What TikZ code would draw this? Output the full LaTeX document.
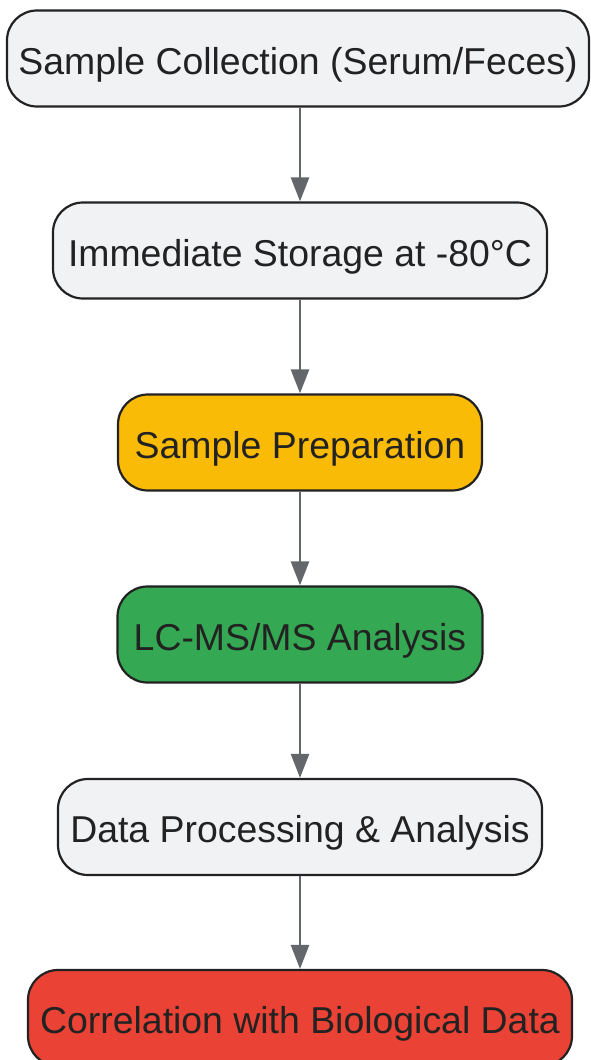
\documentclass[tikz,border=0pt]{standalone}
\usepackage{fontspec}
\setmainfont{Liberation Sans}
\usetikzlibrary{arrows.meta}
\definecolor{boxgray}{HTML}{F1F2F4}
\definecolor{boxorange}{HTML}{F9BB06}
\definecolor{boxgreen}{HTML}{34A853}
\definecolor{boxred}{HTML}{EA4335}
\definecolor{edgegray}{HTML}{63666A}
\definecolor{inkdark}{HTML}{222222}
\tikzset{
 stepnode/.style={draw=inkdark,line width=2.2pt,rounded corners=30pt,
   minimum height=96pt,inner sep=0pt,text=inkdark,
   text height=31pt,text depth=0pt,
   font=\fontsize{37.4}{44}\selectfont},
 flowarrow/.style={draw=edgegray,line width=2.6pt,
   -{Triangle[length=24pt,width=18pt]}}
}
\begin{document}
\begin{tikzpicture}[x=1pt,y=1pt]
 \useasboundingbox (0,0) rectangle (591,-1060);
 \node [stepnode,fill=boxgray,minimum width=582pt] (collect) at (298,-58.5) {Sample Collection (Serum/Feces)};
 \node [stepnode,fill=boxgray,minimum width=494pt] (store) at (300,-250.5) {Immediate Storage at -80°C};
 \node [stepnode,fill=boxorange,minimum width=364pt] (prep) at (300,-442.5) {Sample Preparation};
 \node [stepnode,fill=boxgreen,minimum width=365pt] (lcms) at (300,-634.5) {LC-MS/MS Analysis};
 \node [stepnode,fill=boxgray,minimum width=484pt] (proc) at (300,-827) {Data Processing \& Analysis};
 \node [stepnode,fill=boxred,minimum width=544pt] (corr) at (300,-1018) {Correlation with Biological Data};
 \draw [flowarrow] (collect.south -| store.north) -- (store.north);
 \draw [flowarrow] (store) -- (prep);
 \draw [flowarrow] (prep) -- (lcms);
 \draw [flowarrow] (lcms) -- (proc);
 \draw [flowarrow] (proc) -- (corr);
\end{tikzpicture}
\end{document}
